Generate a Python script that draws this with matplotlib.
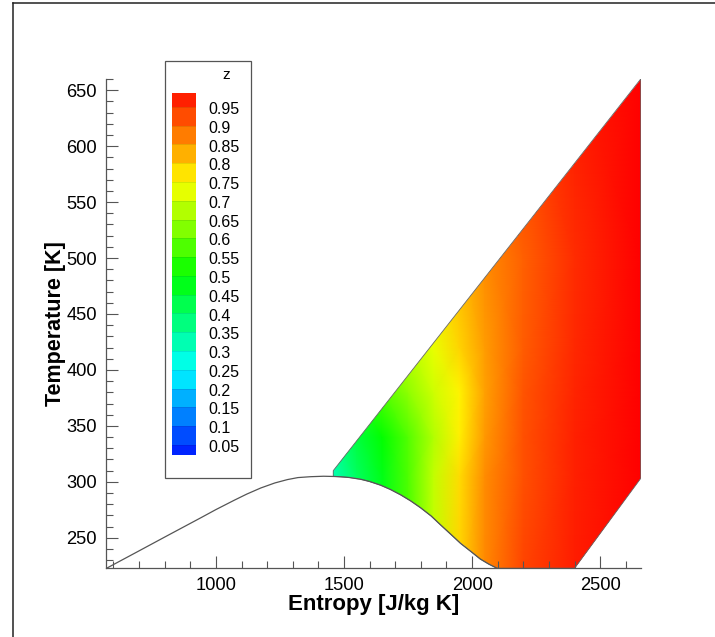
import numpy as np
import matplotlib.pyplot as plt
from matplotlib.colors import LinearSegmentedColormap
from matplotlib.patches import Polygon, Rectangle
from matplotlib.lines import Line2D
from matplotlib.ticker import MultipleLocator

plt.rcParams['font.family'] = ['Liberation Sans', 'DejaVu Sans']

# saturation dome, entropy [J/kg K] vs temperature [K]
dome_s = [571, 682, 812, 942, 1000, 1071, 1120, 1175, 1230, 1279, 1320, 1370, 1420,
          1461, 1487, 1520, 1565, 1600, 1643, 1680, 1721, 1760, 1799, 1840,
          1877, 1915, 1955, 1995, 2032, 2065, 2097]
dome_T = [222.5, 236.1, 252.1, 268, 275.2, 283.5, 289, 294.5, 299, 302, 303.8, 304.6, 305,
          304.8, 304.5, 303.9, 302.3, 300.3, 297, 293.3, 288.4, 283, 276.8, 269.5,
          261.5, 253.5, 245, 237.8, 231, 226.5, 222.8]

# outline of the computed (vapour) region
region_s = [1458, 1487, 1520, 1565, 1600, 1643, 1680, 1721, 1760, 1799, 1840,
            1877, 1915, 1955, 1995, 2032, 2065, 2097, 2400, 2658, 2658, 1458]
region_T = [304.8, 304.5, 303.9, 302.3, 300.3, 297, 293.3, 288.4, 283, 276.8, 269.5,
            261.5, 253.5, 245, 237.8, 231, 226.5, 222.8, 222.8, 303, 660, 310]

# compressibility factor z
grid_s = [1450, 1550, 1650, 1750, 1850, 1950, 2050, 2200, 2400, 2660]
grid_T = [222, 305, 340, 380, 420, 500, 660]
grid_z = [
    [0.30, 0.39, 0.47, 0.57, 0.69, 0.79, 0.865, 0.93, 0.97, 1.0],
    [0.32, 0.41, 0.48, 0.575, 0.69, 0.785, 0.86, 0.92, 0.965, 1.0],
    [0.36, 0.44, 0.50, 0.58, 0.675, 0.765, 0.85, 0.92, 0.965, 1.0],
    [0.45, 0.52, 0.58, 0.64, 0.70, 0.76, 0.84, 0.915, 0.963, 1.0],
    [0.55, 0.60, 0.64, 0.68, 0.73, 0.79, 0.845, 0.91, 0.96, 1.0],
    [0.70, 0.72, 0.74, 0.76, 0.78, 0.82, 0.86, 0.905, 0.955, 1.0],
    [0.80, 0.82, 0.84, 0.86, 0.88, 0.90, 0.92, 0.94, 0.97, 1.0],
]

levels = [0.05, 0.1, 0.15, 0.2, 0.25, 0.3, 0.35, 0.4, 0.45, 0.5,
          0.55, 0.6, 0.65, 0.7, 0.75, 0.8, 0.85, 0.9, 0.95]
level_labels = ['0.05', '0.1', '0.15', '0.2', '0.25', '0.3', '0.35', '0.4', '0.45', '0.5',
                '0.55', '0.6', '0.65', '0.7', '0.75', '0.8', '0.85', '0.9', '0.95']

cmap = LinearSegmentedColormap.from_list(
    'rainbow_tp', [(0, '#0000ff'), (0.25, '#00ffff'), (0.5, '#00ff00'),
                   (0.75, '#ffff00'), (1.0, '#ff0000')])

W, H = 715, 637
fig = plt.figure(figsize=(W / 100, H / 100), dpi=100)

def fx(px):
    return px / W

def fy(py):
    return 1 - py / H

ax = fig.add_axes([fx(106), fy(568), fx(640.7) - fx(106), fy(79) - fy(568)])
ax.set_xlim(571, 2658)
ax.set_ylim(223, 660)

S, T = np.meshgrid(grid_s, grid_T)
mesh = ax.pcolormesh(S, T, np.array(grid_z), shading='gouraud', cmap=cmap,
                     vmin=0, vmax=1, zorder=1)
clip = Polygon(np.column_stack([region_s, region_T]), closed=True,
               transform=ax.transData)
mesh.set_clip_path(clip)
ax.add_patch(Polygon(np.column_stack([region_s, region_T]), closed=True,
                     facecolor='none', edgecolor='#666666', lw=0.6, zorder=2))
ax.plot(dome_s, dome_T, color='#555555', lw=0.9, zorder=3)

for side in ['top', 'right']:
    ax.spines[side].set_visible(False)
for side in ['left', 'bottom']:
    ax.spines[side].set_color('#555555')
    ax.spines[side].set_linewidth(0.9)

ax.xaxis.set_major_locator(MultipleLocator(500))
ax.xaxis.set_minor_locator(MultipleLocator(100))
ax.yaxis.set_major_locator(MultipleLocator(50))
ax.yaxis.set_minor_locator(MultipleLocator(10))
ax.tick_params(which='both', direction='in', color='#555555', width=0.8,
               labelsize=13.2, top=False, right=False)
ax.tick_params(which='major', length=8.4)
ax.tick_params(which='minor', length=5.3)
ax.tick_params(axis='y', pad=6.5)
ax.tick_params(axis='x', pad=6.5)

ax.set_xlabel('Entropy [J/kg K]', fontsize=16, fontweight='bold')
ax.xaxis.set_label_coords(0.5, -0.053)
ax.set_ylabel('Temperature [K]', fontsize=15.5, fontweight='bold')
ax.yaxis.set_label_coords(-0.074, 0.5)

# legend box
fig.patches.append(Rectangle((fx(165), fy(478)), fx(251) - fx(165), fy(61) - fy(478),
                             transform=fig.transFigure, facecolor='white',
                             edgecolor='#555555', lw=0.9, zorder=5))
fig.text(fx(226), fy(75), 'z', fontsize=11, ha='center', va='center', zorder=7)

cax = fig.add_axes([fx(172), fy(455), fx(196) - fx(172), fy(93) - fy(455)], zorder=6)
ylo, yhi = 0.023, 0.987
edges = np.array([ylo] + levels + [yhi])
mids = (edges[:-1] + edges[1:]) / 2
cax.pcolormesh([0, 1], edges, mids.reshape(-1, 1), cmap=cmap, vmin=0, vmax=1)
for lv in levels:
    cax.axhline(lv, color=(0, 0, 0, 0.1), lw=0.6)
cax.set_xlim(0, 1)
cax.set_ylim(ylo, yhi)
cax.set_axis_off()
for lv, lab in zip(levels, level_labels):
    cax.text(1.5, lv - 0.007, lab, fontsize=11.5, ha='left', va='center',
             transform=cax.get_yaxis_transform())

# page frame
fig.lines.append(Line2D([fx(12.5), fx(12.5)], [0, fy(2.5)], transform=fig.transFigure,
                        color='#222222', lw=1.1))
fig.lines.append(Line2D([fx(12.5), 1], [fy(2.5), fy(2.5)], transform=fig.transFigure,
                        color='#222222', lw=1.1))

fig.savefig('out.png', dpi=100)
